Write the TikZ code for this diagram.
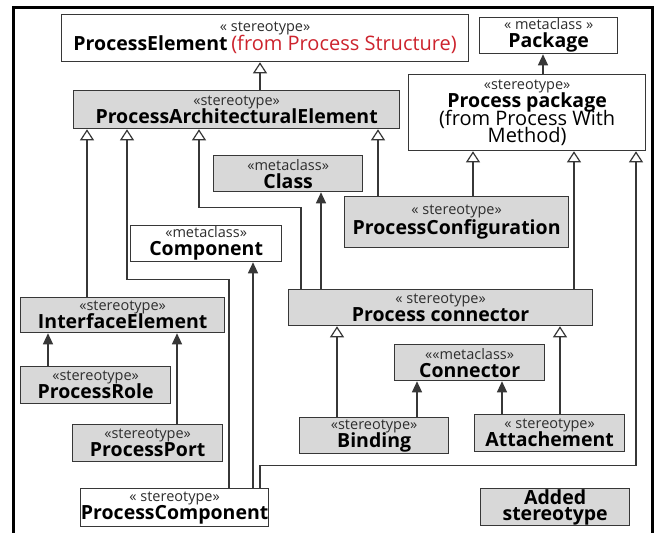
\documentclass[tikz,border=0pt]{standalone}
\usepackage{fontspec}
\setmainfont{Open Sans}
\usetikzlibrary{arrows.meta}
\definecolor{boxgray}{RGB}{216,216,216}
\definecolor{edgecol}{RGB}{55,55,55}
\definecolor{stcol}{RGB}{45,45,45}
\definecolor{redtxt}{RGB}{205,35,45}
\newcommand{\stl}[1]{{\fontsize{14.5}{18}\selectfont\color{stcol}#1}}
\newcommand{\nml}[1]{{\fontsize{19.5}{18}\selectfont\bfseries #1}}
\newcommand{\rgl}[1]{{\fontsize{20}{18}\selectfont #1}}
\newcommand{\tightlines}{\lineskiplimit=-40pt\relax\lineskip=0pt\relax}
\begin{document}
\begin{tikzpicture}[x=1pt,y=-1pt,
  umlbox/.style={draw=edgecol, line width=1.3pt, anchor=north west, inner sep=0pt,
    align=center, font=\fontsize{14.5}{18}\selectfont\tightlines},
  whitebox/.style={umlbox, fill=white},
  graybox/.style={umlbox, fill=boxgray},
  link/.style={draw=edgecol, line width=1.2pt},
  gen/.style={link, -{Triangle[open, width=14pt, length=11pt, fill=white]}},
  dep/.style={link, -{Triangle[width=10pt, length=11pt]}}
]
\useasboundingbox (0,0) rectangle (657,533);
\fill[white] (0,0) rectangle (657,533);
% outer frame, open at the foot of the page
\draw[line width=3pt, black] (13,533) -- (13,7) -- (652,7) -- (652,533);

% classes
\node[whitebox, minimum width=407pt, minimum height=47pt] (pe) at (61,14)
  {\stl{« stereotype»}\\[1pt]\nml{ProcessElement} {\color{redtxt}\rgl{(from Process Structure)}}};
\node[whitebox, minimum width=138pt, minimum height=36pt] (pkg) at (479,17)
  {\stl{« metaclass »}\\\nml{Package}};
\node[graybox, minimum width=326pt, minimum height=38pt] (pae) at (73,90)
  {\stl{«stereotype»}\\\nml{ProcessArchitecturalElement}};
\node[whitebox, minimum width=237pt, minimum height=76pt] (ppk) at (408,74)
  {\stl{«stereotype»}\\\nml{Process package}\\\rgl{(from Process With}\\[-1pt]\rgl{Method)}};
\node[graybox, minimum width=149pt, minimum height=36pt] (cls) at (213,155)
  {\stl{«metaclass»}\\\nml{Class}};
\node[whitebox, minimum width=151pt, minimum height=36pt] (cmp) at (130,225)
  {\stl{«metaclass»}\\\nml{Component}};
\node[graybox, minimum width=224pt, minimum height=51pt] (cfg) at (344,196)
  {\stl{« stereotype»}\\[2pt]\nml{ProcessConfiguration}};
\node[graybox, minimum width=204pt, minimum height=35pt] (ie) at (20,297)
  {\stl{«stereotype»}\\\nml{InterfaceElement}};
\node[graybox, minimum width=304pt, minimum height=36pt] (pcn) at (288,289)
  {\stl{« stereotype»}\\\nml{Process connector}};
\node[graybox, minimum width=150pt, minimum height=37pt] (role) at (20,366)
  {\stl{«stereotype»}\\\nml{ProcessRole}};
\node[graybox, minimum width=150pt, minimum height=36pt] (con) at (394,344)
  {\stl{««metaclass»}\\\nml{Connector}};
\node[graybox, minimum width=150pt, minimum height=37pt] (port) at (72,424)
  {\stl{«stereotype»}\\\nml{ProcessPort}};
\node[graybox, minimum width=149pt, minimum height=36pt] (bind) at (299,417)
  {\stl{«stereotype»}\\\nml{Binding}};
\node[graybox, minimum width=150pt, minimum height=37pt] (att) at (474,414)
  {\stl{« stereotype»}\\\nml{Attachement}};
\node[whitebox, minimum width=188pt, minimum height=38pt] (pcomp) at (80,488)
  {\stl{« stereotype»}\\\nml{ProcessComponent}};
\node[graybox, minimum width=149pt, minimum height=37pt] (add) at (480,488)
  {\nml{Added}\\[-2pt]\nml{stereotype}};

% generalizations and dependencies
\draw[gen] ([xshift=187pt]pae.north west) -- ([xshift=187pt]pae.north west |- pe.south);
\draw[dep] ([xshift=135pt]ppk.north west) -- ([xshift=135pt]ppk.north west |- pkg.south);
\draw[gen] ([xshift=67pt]ie.north west) -- ([xshift=67pt]ie.north west |- pae.south);
\draw[gen] ([xshift=149pt]pcomp.north west) |- ([xshift=54pt,yshift=-150pt]pae.south west)
  -- ([xshift=54pt]pae.south west);
\draw[gen] ([xshift=13pt]pcn.north west) |- ([xshift=126pt,yshift=-78pt]pae.south west)
  -- ([xshift=126pt]pae.south west);
\draw[gen] ([xshift=305pt]pae.south west |- cfg.north) -- ([xshift=305pt]pae.south west);
\draw[gen] ([xshift=129pt]cfg.north west) -- ([xshift=129pt]cfg.north west |- ppk.south);
\draw[gen] ([xshift=286pt]pcn.north west) -- ([xshift=286pt]pcn.north west |- ppk.south);
\draw[gen] ([xshift=180pt]pcomp.north west) |- ([xshift=228pt,yshift=-314pt]ppk.south west)
  -- ([xshift=228pt]ppk.south west);
\draw[dep] ([xshift=33pt]pcn.north west) -- ([xshift=33pt]pcn.north west |- cls.south);
\draw[dep] ([xshift=173pt]pcomp.north west) -- ([xshift=173pt]pcomp.north west |- cmp.south);
\draw[dep] ([xshift=28pt]role.north west) -- ([xshift=28pt]role.north west |- ie.south);
\draw[dep] ([xshift=105pt]port.north west) -- ([xshift=105pt]port.north west |- ie.south);
\draw[gen] ([xshift=38pt]bind.north west) -- ([xshift=38pt]bind.north west |- pcn.south);
\draw[dep] ([xshift=118pt]bind.north west) -- ([xshift=118pt]bind.north west |- con.south);
\draw[dep] ([xshift=28pt]att.north west) -- ([xshift=28pt]att.north west |- con.south);
\draw[gen] ([xshift=86pt]att.north west) -- ([xshift=86pt]att.north west |- pcn.south);
\end{tikzpicture}
\end{document}
